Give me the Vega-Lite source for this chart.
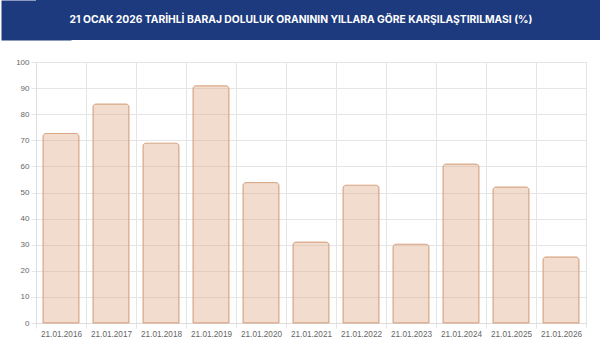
{
  "$schema": "https://vega.github.io/schema/vega-lite/v6.json",
  "background": "white",
  "padding": 0,
  "spacing": 17,
  "config": {
    "font": "Liberation Sans"
  },
  "vconcat": [
    {
      "width": 565,
      "height": 40,
      "view": {"fill": "#1d3a7e", "stroke": null},
      "data": {"values": [{"title": "21 OCAK 2026 TARİHLİ BARAJ DOLULUK ORANININ YILLARA GÖRE KARŞILAŞTIRILMASI (%)", "pos": 0.5}]},
      "mark": {"type": "text", "color": "white", "font": "Inter", "fontWeight": 700, "fontSize": 10.3, "align": "center", "baseline": "middle", "dx": -17.5},
      "encoding": {
        "text": {"field": "title"},
        "y": {"field": "pos", "type": "quantitative", "scale": {"domain": [0, 1]},
          "axis": {"title": null, "labels": false, "ticks": false, "grid": false, "domain": true, "domainColor": "#1d3a7e", "domainWidth": 70, "domainCap": "butt", "minExtent": 35, "maxExtent": 35}}
      }
    },
    {
      "width": 550,
      "height": 261,
      "view": {"stroke": "#e5e5e5", "strokeWidth": 1},
      "data": {"values": [
        {"date": "21.01.2016", "value": 72.6},
        {"date": "21.01.2017", "value": 83.9},
        {"date": "21.01.2018", "value": 68.9},
        {"date": "21.01.2019", "value": 90.9},
        {"date": "21.01.2020", "value": 53.8},
        {"date": "21.01.2021", "value": 31.0},
        {"date": "21.01.2022", "value": 52.8},
        {"date": "21.01.2023", "value": 30.2},
        {"date": "21.01.2024", "value": 60.9},
        {"date": "21.01.2025", "value": 52.1},
        {"date": "21.01.2026", "value": 25.3}
      ]},
      "mark": {"type": "bar", "width": {"band": 0.72}, "fill": "#dfa883", "fillOpacity": 0.4, "stroke": "#d9a888", "strokeWidth": 1, "cornerRadiusTopLeft": 3, "cornerRadiusTopRight": 3},
      "encoding": {
        "x": {"field": "date", "type": "ordinal", "sort": null, "title": null,
          "scale": {"paddingInner": 0, "paddingOuter": 0},
          "axis": {"tickBand": "extent", "grid": true, "gridColor": "#e5e5e5", "ticks": true, "tickColor": "#e5e5e5", "tickSize": 5, "domainColor": "#dddddd", "labelAngle": 0, "labelFont": "Liberation Sans", "labelFontSize": 8.2, "labelColor": "#666666", "labelPadding": 2}},
        "y": {"field": "value", "type": "quantitative", "title": null,
          "scale": {"domain": [0, 100], "nice": false},
          "axis": {"values": [0,10,20,30,40,50,60,70,80,90,100], "grid": true, "gridColor": "#e5e5e5", "ticks": true, "tickColor": "#e5e5e5", "tickSize": 5, "domainColor": "#dddddd", "labelFont": "Liberation Sans", "labelFontSize": 8, "labelColor": "#666666", "labelPadding": 2, "minExtent": 35, "maxExtent": 35}}
      }
    }
  ]
}
